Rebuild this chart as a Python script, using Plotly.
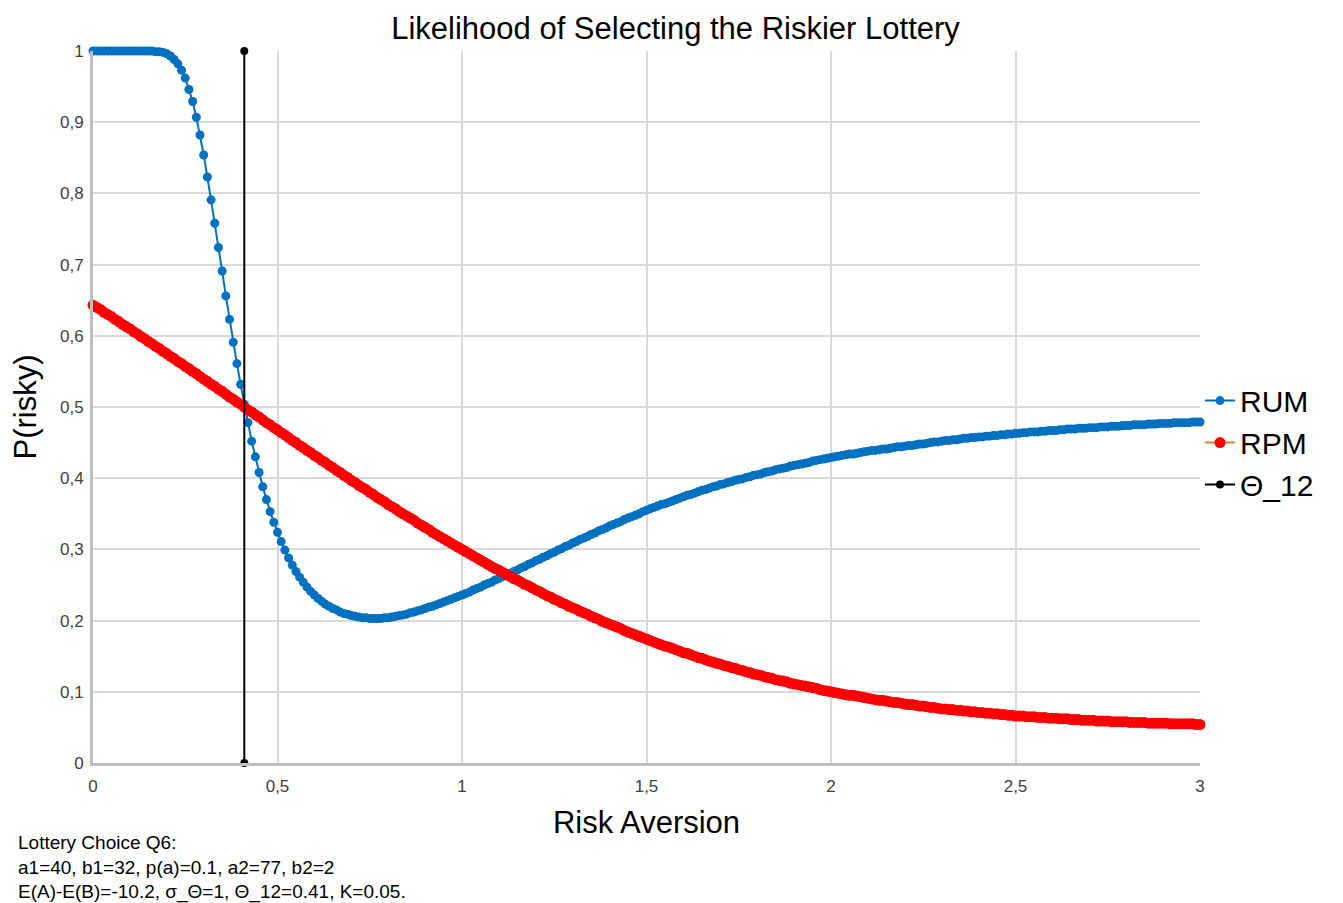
import plotly.graph_objects as go

# risk aversion grid (step 0.01 from 0 to 3)
risk_aversion = [round(i * 0.01, 2) for i in range(301)]

# P(risky) under the random utility model
rum = [
    1.000, 1.000, 1.000, 1.000, 1.000, 1.000, 1.000, 1.000, 1.000, 1.000,
    1.000, 1.000, 1.000, 1.000, 1.000, 1.000, 1.000, 0.999, 0.999, 0.998,
    0.996, 0.993, 0.988, 0.982, 0.973, 0.962, 0.946, 0.929, 0.907, 0.882,
    0.854, 0.823, 0.791, 0.758, 0.724, 0.691, 0.656, 0.623, 0.591, 0.561,
    0.532, 0.504, 0.478, 0.452, 0.430, 0.408, 0.388, 0.370, 0.353, 0.338,
    0.324, 0.311, 0.299, 0.288, 0.278, 0.269, 0.261, 0.254, 0.247, 0.241,
    0.236, 0.231, 0.227, 0.223, 0.220, 0.217, 0.215, 0.212, 0.210, 0.209,
    0.207, 0.206, 0.205, 0.204, 0.204, 0.203, 0.203, 0.203, 0.203, 0.204,
    0.204, 0.205, 0.206, 0.207, 0.208, 0.209, 0.211, 0.212, 0.214, 0.215,
    0.217, 0.219, 0.220, 0.222, 0.224, 0.226, 0.228, 0.230, 0.232, 0.234,
    0.236, 0.238, 0.240, 0.243, 0.245, 0.247, 0.250, 0.252, 0.254, 0.257,
    0.259, 0.262, 0.264, 0.266, 0.269, 0.271, 0.274, 0.276, 0.279, 0.281,
    0.284, 0.286, 0.289, 0.291, 0.294, 0.296, 0.299, 0.301, 0.304, 0.306,
    0.309, 0.311, 0.314, 0.316, 0.318, 0.321, 0.323, 0.326, 0.328, 0.330,
    0.333, 0.335, 0.337, 0.339, 0.342, 0.344, 0.346, 0.348, 0.350, 0.353,
    0.355, 0.357, 0.359, 0.361, 0.363, 0.364, 0.366, 0.368, 0.370, 0.372,
    0.374, 0.376, 0.377, 0.379, 0.381, 0.383, 0.384, 0.386, 0.388, 0.389,
    0.391, 0.392, 0.394, 0.395, 0.397, 0.398, 0.399, 0.401, 0.402, 0.404,
    0.405, 0.406, 0.408, 0.409, 0.410, 0.412, 0.413, 0.414, 0.415, 0.417,
    0.418, 0.419, 0.420, 0.421, 0.422, 0.424, 0.425, 0.426, 0.427, 0.428,
    0.429, 0.430, 0.431, 0.432, 0.433, 0.434, 0.434, 0.435, 0.436, 0.437,
    0.438, 0.439, 0.439, 0.440, 0.441, 0.441, 0.442, 0.443, 0.444, 0.444,
    0.445, 0.446, 0.446, 0.447, 0.448, 0.448, 0.449, 0.450, 0.451, 0.451,
    0.452, 0.453, 0.453, 0.454, 0.454, 0.455, 0.456, 0.456, 0.457, 0.457,
    0.458, 0.458, 0.459, 0.459, 0.460, 0.460, 0.461, 0.461, 0.462, 0.462,
    0.463, 0.463, 0.464, 0.464, 0.465, 0.465, 0.465, 0.466, 0.466, 0.467,
    0.467, 0.467, 0.468, 0.468, 0.469, 0.469, 0.469, 0.470, 0.470, 0.470,
    0.471, 0.471, 0.471, 0.472, 0.472, 0.472, 0.473, 0.473, 0.473, 0.474,
    0.474, 0.474, 0.475, 0.475, 0.475, 0.475, 0.476, 0.476, 0.476, 0.477,
    0.477, 0.477, 0.477, 0.478, 0.478, 0.478, 0.478, 0.478, 0.479, 0.479,
    0.479,
]

# P(risky) under the random preference model
rpm = [
    0.643, 0.640, 0.637, 0.633, 0.630, 0.627, 0.623, 0.620, 0.616, 0.613,
    0.610, 0.606, 0.603, 0.599, 0.596, 0.592, 0.589, 0.585, 0.582, 0.578,
    0.575, 0.571, 0.568, 0.564, 0.561, 0.557, 0.554, 0.550, 0.547, 0.543,
    0.539, 0.536, 0.532, 0.529, 0.525, 0.522, 0.518, 0.514, 0.511, 0.507,
    0.504, 0.500, 0.496, 0.493, 0.489, 0.486, 0.482, 0.478, 0.475, 0.471,
    0.468, 0.464, 0.461, 0.457, 0.453, 0.450, 0.446, 0.443, 0.439, 0.436,
    0.432, 0.429, 0.425, 0.422, 0.418, 0.415, 0.411, 0.408, 0.404, 0.401,
    0.397, 0.394, 0.390, 0.387, 0.384, 0.380, 0.377, 0.373, 0.370, 0.367,
    0.363, 0.360, 0.357, 0.353, 0.350, 0.347, 0.344, 0.341, 0.337, 0.334,
    0.331, 0.328, 0.324, 0.321, 0.318, 0.315, 0.312, 0.309, 0.306, 0.303,
    0.300, 0.297, 0.294, 0.291, 0.288, 0.285, 0.282, 0.279, 0.276, 0.273,
    0.271, 0.268, 0.265, 0.262, 0.259, 0.257, 0.254, 0.251, 0.249, 0.246,
    0.243, 0.241, 0.238, 0.235, 0.233, 0.230, 0.228, 0.225, 0.223, 0.220,
    0.218, 0.216, 0.213, 0.211, 0.209, 0.206, 0.204, 0.202, 0.199, 0.197,
    0.195, 0.193, 0.191, 0.189, 0.186, 0.184, 0.182, 0.180, 0.178, 0.176,
    0.174, 0.172, 0.170, 0.168, 0.166, 0.164, 0.163, 0.161, 0.159, 0.157,
    0.155, 0.154, 0.152, 0.150, 0.148, 0.147, 0.145, 0.143, 0.142, 0.140,
    0.139, 0.137, 0.136, 0.134, 0.133, 0.131, 0.130, 0.128, 0.127, 0.125,
    0.124, 0.123, 0.121, 0.120, 0.119, 0.117, 0.116, 0.115, 0.114, 0.112,
    0.111, 0.110, 0.109, 0.108, 0.107, 0.106, 0.105, 0.103, 0.102, 0.101,
    0.100, 0.099, 0.098, 0.097, 0.096, 0.095, 0.095, 0.094, 0.093, 0.092,
    0.091, 0.090, 0.089, 0.088, 0.088, 0.087, 0.086, 0.085, 0.085, 0.084,
    0.083, 0.082, 0.082, 0.081, 0.080, 0.080, 0.079, 0.078, 0.078, 0.077,
    0.076, 0.076, 0.075, 0.075, 0.074, 0.074, 0.073, 0.073, 0.072, 0.072,
    0.071, 0.071, 0.070, 0.070, 0.069, 0.069, 0.068, 0.068, 0.067, 0.067,
    0.066, 0.066, 0.066, 0.065, 0.065, 0.065, 0.064, 0.064, 0.064, 0.063,
    0.063, 0.063, 0.062, 0.062, 0.062, 0.061, 0.061, 0.061, 0.060, 0.060,
    0.060, 0.060, 0.059, 0.059, 0.059, 0.059, 0.058, 0.058, 0.058, 0.058,
    0.058, 0.057, 0.057, 0.057, 0.057, 0.057, 0.056, 0.056, 0.056, 0.056,
    0.056, 0.056, 0.055, 0.055, 0.055, 0.055, 0.055, 0.055, 0.055, 0.054,
    0.054,
]

# indifference point Theta_12
theta_x = [0.41, 0.41]
theta_y = [0, 1]

note = ("Lottery Choice Q6:<br>"
        "a1=40, b1=32, p(a)=0.1, a2=77, b2=2<br>"
        "E(A)-E(B)=-10.2, σ_Θ=1, Θ_12=0.41, K=0.05.")

font_family = "Liberation Sans, Arial, sans-serif"

fig = go.Figure()

fig.add_trace(go.Scatter(
    x=risk_aversion, y=rum, name="RUM", mode="lines+markers",
    line=dict(color="#0070C0", width=2),
    marker=dict(color="#0070C0", size=9),
    cliponaxis=False,
))

fig.add_trace(go.Scatter(
    x=risk_aversion, y=rpm, name="RPM", mode="lines+markers",
    line=dict(color="#ED7D31", width=2),
    marker=dict(color="#FF0000", size=11),
    cliponaxis=False,
))

fig.add_trace(go.Scatter(
    x=theta_x, y=theta_y, name="Θ_12", mode="lines+markers",
    line=dict(color="#000000", width=2),
    marker=dict(color="#000000", size=8),
    cliponaxis=False,
))

fig.add_annotation(
    text=note, xref="paper", yref="paper", x=-0.0695, y=-0.0935,
    xanchor="left", yanchor="top", align="left", showarrow=False,
    font=dict(size=19, color="#000000", family=font_family),
)

# the page body adds an 8px offset, so the figure is sized to fit inside it
fig.update_layout(
    width=1335, height=895,
    margin=dict(l=81, r=143, t=43, b=140),
    paper_bgcolor="white", plot_bgcolor="white",
    separators=", ",
    font=dict(family=font_family, color="#000000"),
    title=dict(
        text="Likelihood of Selecting the Riskier Lottery",
        x=0.5, xanchor="center", y=0.977, yanchor="middle",
        font=dict(size=31, color="#000000"),
    ),
    legend=dict(
        x=1.0, xanchor="left", y=0.45, yanchor="middle",
        font=dict(size=30, color="#000000"),
        bgcolor="rgba(0,0,0,0)", tracegroupgap=0,
    ),
    showlegend=True,
)

fig.update_xaxes(
    range=[0, 3], dtick=0.5, tick0=0,
    showgrid=True, gridcolor="#D9D9D9", gridwidth=1.5,
    showline=True, linecolor="#BFBFBF", linewidth=3,
    zeroline=False, ticks="", ticklabelstandoff=6,
    tickfont=dict(size=17, color="#404040"),
    title=dict(text="Risk Aversion", font=dict(size=31, color="#000000"), standoff=16),
)

fig.update_yaxes(
    range=[0, 1], dtick=0.1, tick0=0,
    showgrid=True, gridcolor="#D9D9D9", gridwidth=1.5,
    showline=True, linecolor="#BFBFBF", linewidth=3,
    zeroline=False, ticks="", ticklabelstandoff=3,
    tickfont=dict(size=17, color="#404040"),
    title=dict(text="P(risky)", font=dict(size=31, color="#000000"), standoff=18),
)

fig.write_html("out.html")
